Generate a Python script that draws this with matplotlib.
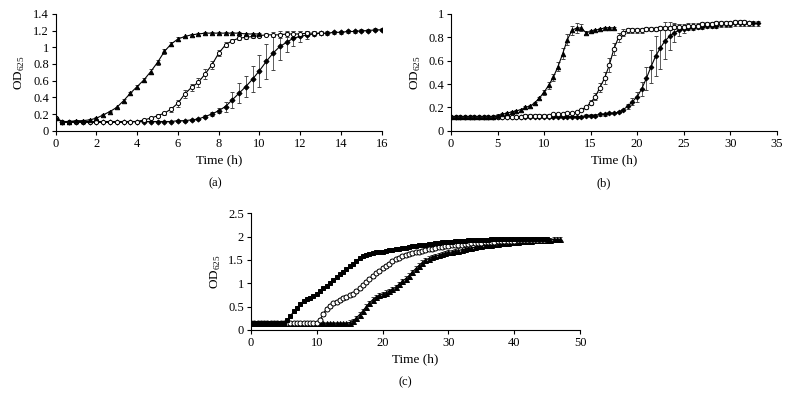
import numpy as np
import matplotlib
matplotlib.use("Agg")
import matplotlib.pyplot as plt
from matplotlib.ticker import FuncFormatter, MultipleLocator

plt.rcParams["font.family"] = ["Liberation Serif", "DejaVu Serif"]
plt.rcParams["mathtext.fontset"] = "custom"
plt.rcParams["mathtext.rm"] = "Liberation Serif"

# ---- panel (a): readings every 20 min ----
a_tri = [0.15, 0.11, 0.11, 0.12, 0.12, 0.13, 0.15, 0.19, 0.23, 0.28, 0.36, 0.45, 0.53, 0.61, 0.71, 0.82,
         0.95, 1.04, 1.10, 1.13, 1.15, 1.16, 1.17, 1.17, 1.17, 1.17, 1.17, 1.17, 1.16, 1.16, 1.16]
a_tri_err = [0.01] * 10 + [0.02, 0.02, 0.02, 0.02, 0.03, 0.03, 0.03, 0.02, 0.02] + [0.01] * 12
a_open = [0.15] + [0.10] * 10 + [0.11, 0.11, 0.13, 0.15, 0.18, 0.21, 0.26, 0.33, 0.44, 0.52, 0.58, 0.68,
          0.79, 0.93, 1.03, 1.08, 1.11, 1.12, 1.13, 1.14, 1.15, 1.15, 1.15, 1.16, 1.16, 1.16, 1.17, 1.17, 1.17]
a_open_err = [0.01] * 15 + [0.02, 0.02, 0.03, 0.04, 0.05, 0.04, 0.05, 0.06, 0.05, 0.04, 0.03, 0.02, 0.02,
              0.02, 0.02, 0.02, 0.02, 0.03, 0.04, 0.04, 0.04, 0.04, 0.03, 0.02, 0.02]
a_fill = [0.15] + [0.11] * 17 + [0.12, 0.12, 0.13, 0.14, 0.17, 0.20, 0.24, 0.29, 0.37, 0.45, 0.53, 0.62,
          0.72, 0.83, 0.93, 1.01, 1.06, 1.11, 1.13, 1.15, 1.16, 1.17, 1.17, 1.18, 1.18, 1.19, 1.19, 1.20,
          1.20, 1.21, 1.21]
a_fill_err = [0.01] * 22 + [0.02, 0.02, 0.03, 0.06, 0.10, 0.12, 0.13, 0.16, 0.19, 0.21, 0.20, 0.16, 0.12,
              0.09, 0.07, 0.05, 0.03] + [0.02] * 10

# ---- panel (b): readings every 30 min ----
b1 = [0.12] * 10 + [0.13, 0.14, 0.15, 0.16, 0.17, 0.18, 0.20, 0.21, 0.24, 0.28, 0.33, 0.39, 0.46, 0.55,
                    0.66, 0.78, 0.86, 0.88, 0.88, 0.84, 0.85, 0.86, 0.87, 0.88, 0.88, 0.88]
b1_err = [0.01] * 20 + [0.02, 0.03, 0.03, 0.04, 0.05, 0.05, 0.04, 0.04, 0.03] + [0.01] * 7
b2 = [0.12] * 16 + [0.13, 0.13, 0.13, 0.13, 0.13, 0.13, 0.14, 0.14, 0.14, 0.15,
                    0.15, 0.16, 0.18, 0.20, 0.24, 0.29, 0.37, 0.45, 0.56, 0.70,
                    0.80, 0.84, 0.86, 0.86, 0.86, 0.86, 0.87, 0.87, 0.87, 0.88,
                    0.88, 0.88, 0.89, 0.89, 0.89, 0.90, 0.90, 0.90, 0.91, 0.91,
                    0.91, 0.92, 0.92, 0.92, 0.92, 0.93, 0.93, 0.93, 0.92]
b2_err = [0.01] * 30 + [0.02, 0.03, 0.04, 0.05, 0.06, 0.05, 0.04, 0.03] + [0.02] * 27
b3 = [0.12] * 29 + [0.13, 0.13, 0.13, 0.14, 0.14, 0.15, 0.15,
                    0.16, 0.18, 0.21, 0.25, 0.29, 0.36, 0.45, 0.55, 0.64, 0.71,
                    0.77, 0.81, 0.84, 0.86, 0.87, 0.88, 0.88, 0.89, 0.89, 0.90,
                    0.90, 0.90, 0.91, 0.91, 0.91, 0.92, 0.92, 0.92, 0.92, 0.92, 0.92]
b3_err = [0.01] * 38 + [0.02, 0.03, 0.04, 0.06, 0.10, 0.14, 0.17, 0.18, 0.16, 0.12, 0.08, 0.05,
                        0.03] + [0.02] * 16

# ---- panel (c): readings every 30 min ----
c1 = [0.15] * 10 + [0.16, 0.21, 0.30, 0.40, 0.48, 0.56, 0.62, 0.66, 0.69, 0.73,
                    0.78, 0.83, 0.89, 0.95, 1.01, 1.07, 1.13, 1.19, 1.25, 1.30,
                    1.36, 1.42, 1.48, 1.54, 1.58, 1.61, 1.63, 1.65, 1.66, 1.67,
                    1.68, 1.69, 1.71, 1.72, 1.73, 1.74, 1.75, 1.76, 1.78, 1.79,
                    1.80, 1.81, 1.82, 1.83, 1.84, 1.85, 1.86, 1.87, 1.88, 1.88,
                    1.89, 1.89, 1.90, 1.90, 1.91, 1.91, 1.92, 1.92, 1.92, 1.93,
                    1.93, 1.93, 1.93, 1.94, 1.94, 1.94, 1.94, 1.94, 1.94, 1.95] + [1.95] * 11
c1_err = [0.01] * 10 + [0.03] * 81
c2 = [0.15] * 20 + [0.16, 0.22, 0.35, 0.46, 0.52, 0.57, 0.61, 0.65, 0.68, 0.71,
                    0.74, 0.78, 0.83, 0.89, 0.96, 1.03, 1.10, 1.16, 1.22, 1.27,
                    1.32, 1.37, 1.42, 1.47, 1.51, 1.55, 1.58, 1.60, 1.62, 1.64,
                    1.66, 1.68, 1.70, 1.71, 1.73, 1.74, 1.76, 1.77, 1.78, 1.79,
                    1.80, 1.81, 1.82, 1.83, 1.83, 1.84, 1.85, 1.86, 1.86, 1.87,
                    1.87, 1.88, 1.88, 1.89, 1.89, 1.90, 1.90, 1.90, 1.91, 1.91,
                    1.91, 1.92, 1.92, 1.92, 1.92, 1.93, 1.93, 1.93, 1.93, 1.93]
c2_err = [0.01] * 20 + [0.04] * 70
c3 = [0.15] * 30 + [0.16, 0.19, 0.26, 0.33, 0.41, 0.50, 0.58, 0.65, 0.70, 0.74,
                    0.77, 0.80, 0.83, 0.87, 0.92, 0.98, 1.04, 1.10, 1.16, 1.24,
                    1.31, 1.38, 1.44, 1.49, 1.53, 1.56, 1.58, 1.60, 1.62, 1.64,
                    1.66, 1.67, 1.69, 1.70, 1.72, 1.73, 1.75, 1.76, 1.77, 1.79,
                    1.80, 1.81, 1.82, 1.83, 1.84, 1.85, 1.86, 1.87, 1.87, 1.88,
                    1.89, 1.89, 1.90, 1.90, 1.91, 1.91, 1.92, 1.92, 1.92, 1.93,
                    1.93, 1.93, 1.94, 1.94, 1.94]
c3_err = [0.01] * 30 + [0.05] * 65

fig = plt.figure(figsize=(7.9, 4.04), dpi=100)
ax_a = fig.add_axes([0.0705, 0.6765, 0.4127, 0.2889])
ax_b = fig.add_axes([0.5709, 0.6765, 0.4123, 0.2889])
ax_c = fig.add_axes([0.3177, 0.1832, 0.4165, 0.2889])


def curve(ax, t, v, e, marker, filled=True, ms=3.0):
    ax.errorbar(t, v, yerr=e, color="black", lw=0.8, marker=marker, ms=ms,
                mfc="black" if filled else "white", mec="black", mew=0.7,
                ecolor="#444444", elinewidth=0.6, capsize=1.5, capthick=0.6)


def style(ax, xmax, xstep, ymax, ystep, letter, letter_x):
    ax.set_xlim(0, xmax)
    ax.set_ylim(0, ymax)
    ax.xaxis.set_major_locator(MultipleLocator(xstep))
    ax.yaxis.set_major_locator(MultipleLocator(ystep))
    fmt = FuncFormatter(lambda v, p: f"{v:g}")
    ax.xaxis.set_major_formatter(fmt)
    ax.yaxis.set_major_formatter(fmt)
    for s in ("top", "right"):
        ax.spines[s].set_visible(False)
    for s in ("left", "bottom"):
        ax.spines[s].set_linewidth(0.8)
    ax.tick_params(direction="out", length=3, width=0.8, labelsize=9, pad=2)
    ax.set_xlabel("Time (h)", fontsize=9.5, labelpad=3)
    ax.set_ylabel(r"OD$_{\mathregular{625}}$", fontsize=9.5, labelpad=4)
    ax.text(letter_x, -0.45, letter, transform=ax.transAxes, ha="center", va="center", fontsize=9)


curve(ax_a, np.arange(len(a_fill)) / 3, a_fill, a_fill_err, "D", ms=2.6)
curve(ax_a, np.arange(len(a_open)) / 3, a_open, a_open_err, "o", filled=False, ms=3)
curve(ax_a, np.arange(len(a_tri)) / 3, a_tri, a_tri_err, "^", ms=3.2)
style(ax_a, 16, 2, 1.4, 0.2, "(a)", 0.49)

curve(ax_b, np.arange(len(b3)) * 0.5, b3, b3_err, "D", ms=2.4)
curve(ax_b, np.arange(len(b2)) * 0.5, b2, b2_err, "o", filled=False, ms=3.2)
curve(ax_b, np.arange(len(b1)) * 0.5, b1, b1_err, "^", ms=3.2)
style(ax_b, 35, 5, 1.0, 0.2, "(b)", 0.47)

curve(ax_c, np.arange(len(c3)) * 0.5, c3, c3_err, "^", ms=3.6)
curve(ax_c, np.arange(len(c2)) * 0.5, c2, c2_err, "o", filled=False, ms=3.6)
curve(ax_c, np.arange(len(c1)) * 0.5, c1, c1_err, "s", ms=3.2)
style(ax_c, 50, 10, 2.5, 0.5, "(c)", 0.47)

fig.savefig("out.png", dpi=100)
